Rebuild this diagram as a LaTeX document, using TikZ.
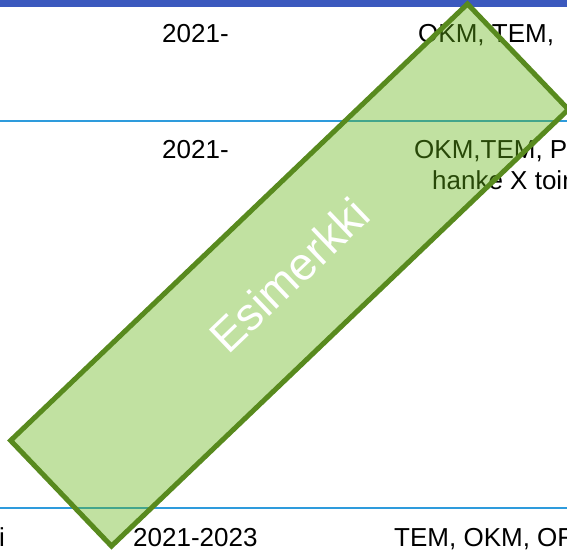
\documentclass[tikz,border=0pt]{standalone}
\usepackage{fontspec}
\setmainfont{Liberation Sans}
\usepackage{xcolor}
\usepackage{tikz}
\usetikzlibrary{arrows.meta}

\definecolor{bandblue}{RGB}{59,89,190}
\definecolor{rowblue}{RGB}{46,155,220}
\definecolor{stampfill}{RGB}{100,180,20}
\definecolor{stampline}{RGB}{88,138,30}

\begin{document}
\begin{tikzpicture}[x=1pt, y=-1pt,
    cell/.style={anchor=base west, inner sep=0pt, font=\fontsize{26}{31}\selectfont},
    stampbox/.style={draw=stampline, line width=5pt, fill=stampfill, fill opacity=.4,
      text opacity=1, text=white, font=\fontsize{46}{55}\selectfont}]
      % page of 567 x 551, origin top left, y down
      \useasboundingbox (0, 0) rectangle (567, 551);
      \clip (0, 0) rectangle (567, 551);
      \def\rowa{42}
      \def\rowb{158}
      \def\rowc{546}
       \fill [bandblue] (0, 0) rectangle (567, 7);
       \draw [rowblue, line width=2pt] (0, 121) -- (567, 121);
       \draw [rowblue, line width=2pt] (0, 508) -- (567, 508);

       \node (yeara) [cell] at (162, \rowa) {2021-};
       \node (whoa) [cell] at (418, \rowa) {OKM, TEM,};

       \node (yearb) [cell] at (162, \rowb) {2021-};
       \node (whob) [cell] at (414, \rowb) {OKM,TEM, P};
       \node (whobb) [cell] at (432, \rowb + 31) {hanke X toim};

       \node (namec) [cell] at (-1, \rowc) {i};
       \node (yearc) [cell] at (133, \rowc) {2021-2023};
       \node (whoc) [cell] at (394, \rowc) {TEM, OKM, OF};

       % example stamp on top
       \node (stamp) [stampbox, rotate=43.7, minimum width=632pt, minimum height=146pt] at (289.5, 275) {Esimerkki};
\end{tikzpicture}
\end{document}
